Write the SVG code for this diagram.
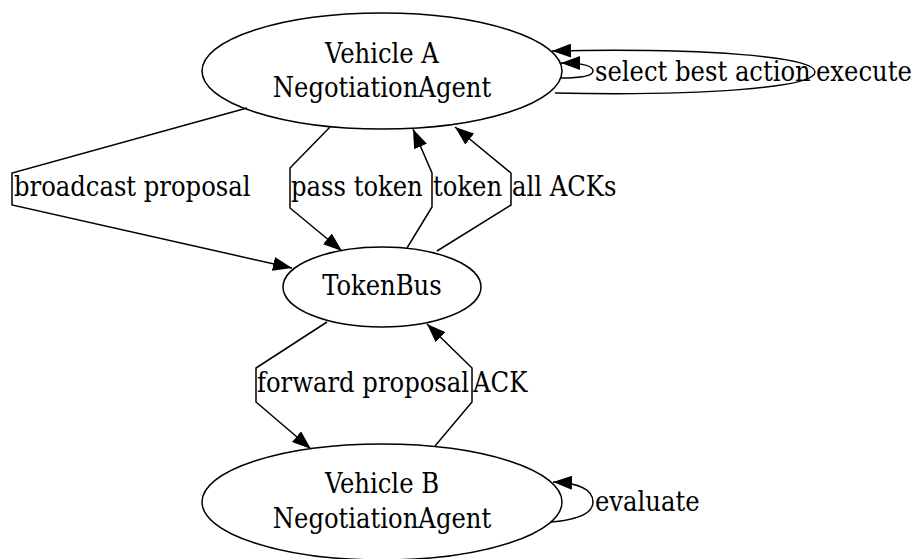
<svg xmlns="http://www.w3.org/2000/svg" width="918" height="559" viewBox="0 0 918 559">
<style>
  .node ellipse { fill: none; stroke: #000; stroke-width: 1.5; }
  text { font-family: "DejaVu Serif Condensed", "DejaVu Serif", serif; font-stretch: condensed; font-size: 27px; fill: #000; }
  .node text { text-anchor: middle; }
  .edge path { fill: none; stroke: #000; stroke-width: 1.5; }
</style>
<defs>
  <marker id="arrow" viewBox="0 0 19 14" refX="19" refY="7" markerWidth="19" markerHeight="14" markerUnits="userSpaceOnUse" orient="auto">
    <path d="M0,0 L19,7 L0,14 z" fill="#000"/>
  </marker>
</defs>
<rect width="918" height="559" fill="#fff"/>
<g id="connectors">
  <g class="edge" id="e-broadcast">
    <path d="M247,108 L12,173 L12,205 L292,268" marker-end="url(#arrow)"/>
    <text x="14" y="196">broadcast proposal</text>
  </g>
  <g class="edge" id="e-pass">
    <path d="M330,127 L290,168 L290,208 L342,251" marker-end="url(#arrow)"/>
    <text x="291" y="196">pass token</text>
  </g>
  <g class="edge" id="e-token">
    <path d="M407,248 L432,207 L432,173 L413,129" marker-end="url(#arrow)"/>
    <text x="433" y="196">token</text>
  </g>
  <g class="edge" id="e-allacks">
    <path d="M437,251 L511,205 L511,173 L455,127" marker-end="url(#arrow)"/>
    <text x="512" y="196">all ACKs</text>
  </g>
  <g class="edge" id="e-forward">
    <path d="M327,322 L256,368 L256,402 L311,449" marker-end="url(#arrow)"/>
    <text x="257" y="392">forward proposal</text>
  </g>
  <g class="edge" id="e-ack">
    <path d="M435,446 L472,402 L472,368 L427,324" marker-end="url(#arrow)"/>
    <text x="473" y="392">ACK</text>
  </g>
  <g class="edge" id="e-select">
    <path d="M561,78 C580,78 593,76 593,71 C593,66 585,63 561,63" marker-end="url(#arrow)"/>
    <text x="595" y="81">select best action</text>
  </g>
  <g class="edge" id="e-execute">
    <path d="M555,93 C700,96 815,88 815,72 C815,56 700,48 552,51" marker-end="url(#arrow)"/>
    <text x="816" y="81">execute</text>
  </g>
  <g class="edge" id="e-evaluate">
    <path d="M551,522 C575,520 593,514 593,502 C593,490 580,483 553,482" marker-end="url(#arrow)"/>
    <text x="595" y="511">evaluate</text>
  </g>
</g>
<g class="node" id="vehicleA">
  <ellipse cx="382" cy="71" rx="180" ry="58"/>
  <text x="382" y="63">Vehicle A</text>
  <text x="382" y="97">NegotiationAgent</text>
</g>
<g class="node" id="tokenbus">
  <ellipse cx="382" cy="287" rx="99" ry="40"/>
  <text x="382" y="295">TokenBus</text>
</g>
<g class="node" id="vehicleB">
  <ellipse cx="382" cy="502" rx="180" ry="58"/>
  <text x="382" y="493">Vehicle B</text>
  <text x="382" y="528">NegotiationAgent</text>
</g>
</svg>
